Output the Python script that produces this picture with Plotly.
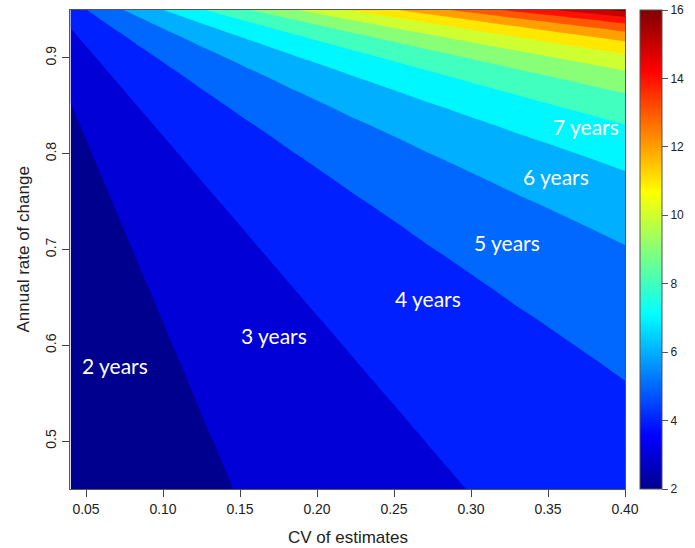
import plotly.graph_objects as go

# CV of estimates (x grid nodes) and annual rate of change (y grid nodes)
cv = [0.04, 0.04846, 0.05871, 0.07113, 0.08618, 0.10441, 0.12649,
      0.15325, 0.18566, 0.22494, 0.27252, 0.33016, 0.40]
rate = [0.45000, 0.50086, 0.54708, 0.58906, 0.62720, 0.66186, 0.69334,
        0.72194, 0.74793, 0.77154, 0.79299, 0.81247, 0.83018, 0.84626,
        0.86088, 0.87415, 0.88621, 0.89717, 0.90713, 0.91617, 0.92439,
        0.93186, 0.93864, 0.94480, 0.95040]

# years needed; rows follow `rate`, columns follow `cv`
years = [
    [1.694, 1.759, 1.837, 1.932, 2.046, 2.185, 2.354, 2.558, 2.805, 3.097, 3.364, 3.686, 4.034],
    [1.725, 1.796, 1.882, 1.986, 2.112, 2.265, 2.451, 2.675, 2.948, 3.224, 3.517, 3.868, 4.216],
    [1.759, 1.837, 1.932, 2.046, 2.185, 2.354, 2.558, 2.805, 3.097, 3.364, 3.686, 4.034, 4.416],
    [1.796, 1.882, 1.986, 2.112, 2.265, 2.451, 2.675, 2.948, 3.224, 3.517, 3.868, 4.216, 4.637],
    [1.837, 1.932, 2.046, 2.185, 2.354, 2.558, 2.805, 3.097, 3.364, 3.686, 4.034, 4.416, 4.879],
    [1.882, 1.986, 2.112, 2.265, 2.451, 2.675, 2.948, 3.224, 3.517, 3.868, 4.216, 4.637, 5.121],
    [1.932, 2.046, 2.185, 2.354, 2.558, 2.805, 3.097, 3.364, 3.686, 4.034, 4.416, 4.879, 5.385],
    [1.986, 2.112, 2.265, 2.451, 2.675, 2.948, 3.224, 3.517, 3.868, 4.216, 4.637, 5.121, 5.677],
    [2.046, 2.185, 2.354, 2.558, 2.805, 3.097, 3.364, 3.686, 4.034, 4.416, 4.879, 5.385, 5.995],
    [2.112, 2.265, 2.451, 2.675, 2.948, 3.224, 3.517, 3.868, 4.216, 4.637, 5.121, 5.677, 6.323],
    [2.185, 2.354, 2.558, 2.805, 3.097, 3.364, 3.686, 4.034, 4.416, 4.879, 5.385, 5.995, 6.685],
    [2.265, 2.451, 2.675, 2.948, 3.224, 3.517, 3.868, 4.216, 4.637, 5.121, 5.677, 6.323, 7.078],
    [2.354, 2.558, 2.805, 3.097, 3.364, 3.686, 4.034, 4.416, 4.879, 5.385, 5.995, 6.685, 7.490],
    [2.451, 2.675, 2.948, 3.224, 3.517, 3.868, 4.216, 4.637, 5.121, 5.677, 6.323, 7.078, 7.944],
    [2.558, 2.805, 3.097, 3.364, 3.686, 4.034, 4.416, 4.879, 5.385, 5.995, 6.685, 7.490, 8.418],
    [2.675, 2.948, 3.224, 3.517, 3.868, 4.216, 4.637, 5.121, 5.677, 6.323, 7.078, 7.944, 8.935],
    [2.805, 3.097, 3.364, 3.686, 4.034, 4.416, 4.879, 5.385, 5.995, 6.685, 7.490, 8.418, 9.481],
    [2.948, 3.224, 3.517, 3.868, 4.216, 4.637, 5.121, 5.677, 6.323, 7.078, 7.944, 8.935, 10.078],
    [3.097, 3.364, 3.686, 4.034, 4.416, 4.879, 5.385, 5.995, 6.685, 7.490, 8.418, 9.481, 10.716],
    [3.224, 3.517, 3.868, 4.216, 4.637, 5.121, 5.677, 6.323, 7.078, 7.944, 8.935, 10.078, 11.404],
    [3.364, 3.686, 4.034, 4.416, 4.879, 5.385, 5.995, 6.685, 7.490, 8.418, 9.481, 10.716, 12.155],
    [3.517, 3.868, 4.216, 4.637, 5.121, 5.677, 6.323, 7.078, 7.944, 8.935, 10.078, 11.404, 12.971],
    [3.686, 4.034, 4.416, 4.879, 5.385, 5.995, 6.685, 7.490, 8.418, 9.481, 10.716, 12.155, 13.854],
    [3.868, 4.216, 4.637, 5.121, 5.677, 6.323, 7.078, 7.944, 8.935, 10.078, 11.404, 12.971, 14.811],
    [4.034, 4.416, 4.879, 5.385, 5.995, 6.685, 7.490, 8.418, 9.481, 10.716, 12.155, 13.854, 15.856],
]

label_text = ["2 years", "3 years", "4 years", "5 years", "6 years", "7 years"]
label_cv = [0.0687, 0.1721, 0.2718, 0.3235, 0.3550, 0.3749]
label_rate = [0.5790, 0.6100, 0.6490, 0.7070, 0.7760, 0.8280]

x_ticks = [0.05, 0.10, 0.15, 0.20, 0.25, 0.30, 0.35, 0.40]
y_ticks = [0.5, 0.6, 0.7, 0.8, 0.9]
cbar_ticks = [2, 4, 6, 8, 10, 12, 14, 16]

jet = [
    [0.0, "#00008F"],
    [0.111, "#0000FF"],
    [0.365, "#00FFFF"],
    [0.619, "#FFFF00"],
    [0.873, "#FF0000"],
    [1.0, "#800000"],
]

AX = "Liberation Sans, Arial, sans-serif"

fig = go.Figure()
fig.add_trace(go.Contour(
    x=cv, y=rate, z=years,
    colorscale=jet,
    autocontour=False,
    contours=dict(start=2.5, end=15.5, size=1, coloring="fill", showlines=False),
    line=dict(width=0, smoothing=0),
    showscale=False,
    hoverinfo="skip",
))
# continuous colour bar
fig.add_trace(go.Scatter(
    x=[0.2, 0.2], y=[0.7, 0.7], mode="markers",
    marker=dict(size=1, opacity=0, color=[2, 16], colorscale=jet, cmin=2, cmax=16,
                showscale=True,
                colorbar=dict(
                    thickness=22, thicknessmode="pixels",
                    len=1, lenmode="fraction",
                    x=1.027, xanchor="left", xpad=0,
                    y=0.5, yanchor="middle", ypad=0,
                    outlinewidth=1, outlinecolor="#555",
                    ticks="outside", ticklen=6, tickcolor="#555",
                    tickvals=cbar_ticks,
                    tickfont=dict(family=AX, size=12, color="#222"),
                )),
    hoverinfo="skip", showlegend=False,
))

for t, xx, yy in zip(label_text, label_cv, label_rate):
    fig.add_annotation(x=xx, y=yy, text=t, showarrow=False,
                       font=dict(family="Lato, Open Sans, sans-serif", size=21, color="white"),
                       xanchor="center", yanchor="middle")

fig.add_annotation(xref="paper", yref="paper", x=0.5, y=(489 - 537) / 479,
                   text="CV of estimates", showarrow=False,
                   font=dict(family=AX, size=17, color="#222"),
                   xanchor="center", yanchor="middle")
fig.add_annotation(xref="paper", yref="paper", x=(22 - 70) / 561, y=(489 - 250) / 479,
                   text="Annual rate of change", showarrow=False, textangle=-90,
                   font=dict(family=AX, size=17, color="#222"),
                   xanchor="center", yanchor="middle")

fig.update_xaxes(range=[0.0396, 0.40], tickvals=x_ticks, tickformat=".2f",
                 ticks="outside", ticklen=7, tickcolor="#444",
                 tickfont=dict(family=AX, size=14, color="#222"),
                 showline=True, linecolor="#555", linewidth=1, mirror=True,
                 showgrid=False, zeroline=False)
fig.update_yaxes(range=[0.45, 0.95], tickvals=y_ticks, tickformat=".1f",
                 tickangle=-90,
                 ticks="outside", ticklen=7, tickcolor="#444",
                 tickfont=dict(family=AX, size=14, color="#222"),
                 showline=True, linecolor="#555", linewidth=1, mirror=True,
                 showgrid=False, zeroline=False)

fig.update_layout(
    width=695, height=548,
    margin=dict(l=70, r=64, t=10, b=59),
    paper_bgcolor="white", plot_bgcolor="white",
    showlegend=False,
)

fig.write_html("out.html")
